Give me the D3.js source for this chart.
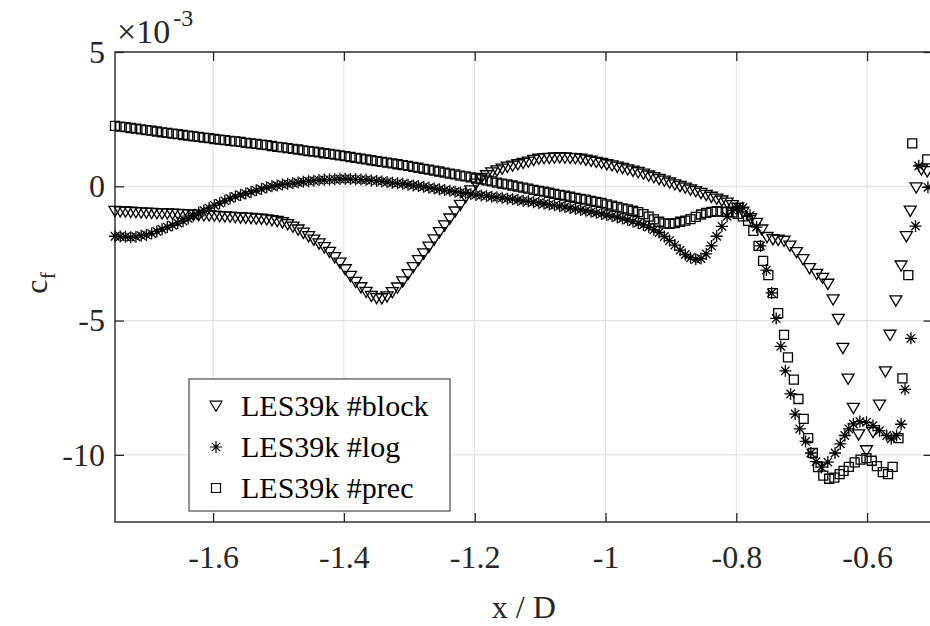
<!DOCTYPE html>
<html>
<head>
<meta charset="utf-8">
<script src="https://cdn.jsdelivr.net/npm/d3@7"></script>
<style>
body { margin: 0; background: #fff; }
svg { display: block; font-family: 'Liberation Serif', 'Times New Roman', serif; }
</style>
</head>
<body>
<svg id="chart" width="930" height="626"></svg>
<script>
// values are c_f in units of 1e-3
const xDomain = [-1.75, -0.5]
const yDomain = [-12.5, 5]
const xTicks = [-1.6, -1.4, -1.2, -1, -0.8, -0.6]
const yTicks = [5, 0, -5, -10]
const seriesNames = ['LES39k #block', 'LES39k #log', 'LES39k #prec']

// wall points shared by the three runs upstream of x/D = -0.79
const xGrid = [
    -1.750, -1.742, -1.734, -1.726, -1.718, -1.710, -1.702, -1.694, -1.686, -1.678,
    -1.670, -1.662, -1.654, -1.646, -1.638, -1.630, -1.622, -1.614, -1.606, -1.598,
    -1.590, -1.582, -1.574, -1.566, -1.558, -1.550, -1.542, -1.534, -1.526, -1.518,
    -1.510, -1.502, -1.494, -1.486, -1.478, -1.470, -1.462, -1.454, -1.446, -1.438,
    -1.430, -1.422, -1.414, -1.406, -1.398, -1.390, -1.382, -1.374, -1.366, -1.358,
    -1.350, -1.342, -1.334, -1.326, -1.318, -1.310, -1.302, -1.294, -1.286, -1.278,
    -1.270, -1.262, -1.254, -1.246, -1.238, -1.230, -1.222, -1.214, -1.206, -1.198,
    -1.190, -1.182, -1.174, -1.166, -1.158, -1.150, -1.142, -1.134, -1.126, -1.118,
    -1.110, -1.102, -1.094, -1.086, -1.078, -1.070, -1.062, -1.054, -1.046, -1.038,
    -1.030, -1.022, -1.014, -1.006, -0.998, -0.990, -0.982, -0.974, -0.966, -0.958,
    -0.950, -0.942, -0.934, -0.926, -0.918, -0.910, -0.902, -0.894, -0.886, -0.878,
    -0.870, -0.862, -0.854, -0.846, -0.838, -0.830, -0.822, -0.814, -0.806, -0.798,
    -0.790
]

const blockY = [
    -0.93, -0.94, -0.95, -0.96, -0.97, -0.98, -0.99, -1.00, -1.01, -1.02,
    -1.02, -1.03, -1.04, -1.05, -1.06, -1.07, -1.08, -1.09, -1.09, -1.10,
    -1.12, -1.13, -1.14, -1.16, -1.17, -1.18, -1.19, -1.21, -1.22, -1.24,
    -1.27, -1.30, -1.35, -1.42, -1.51, -1.62, -1.74, -1.87, -2.00, -2.14,
    -2.28, -2.45, -2.65, -2.85, -3.10, -3.35, -3.57, -3.77, -3.94, -4.09,
    -4.17, -4.18, -4.11, -3.95, -3.78, -3.55, -3.28, -3.02, -2.76, -2.51,
    -2.26, -1.99, -1.72, -1.47, -1.21, -0.95, -0.70, -0.42, -0.16, 0.09,
    0.30, 0.40, 0.51, 0.58, 0.65, 0.72, 0.76, 0.81, 0.86, 0.91,
    0.97, 1.02, 1.04, 1.05, 1.06, 1.07, 1.06, 1.05, 1.04, 1.02,
    0.98, 0.94, 0.90, 0.86, 0.81, 0.77, 0.72, 0.67, 0.62, 0.57,
    0.52, 0.46, 0.39, 0.33, 0.26, 0.20, 0.13, 0.06, 0.00, -0.06,
    -0.13, -0.19, -0.26, -0.33, -0.40, -0.47, -0.54, -0.62, -0.71, -0.81,
    -0.96
]

const logY = [
    -1.86, -1.87, -1.88, -1.90, -1.88, -1.84, -1.81, -1.76, -1.68, -1.60,
    -1.52, -1.45, -1.37, -1.30, -1.20, -1.09, -0.99, -0.90, -0.81, -0.71,
    -0.63, -0.54, -0.45, -0.38, -0.32, -0.27, -0.21, -0.15, -0.10, -0.04,
    0.00, 0.03, 0.07, 0.09, 0.12, 0.14, 0.17, 0.19, 0.21, 0.23,
    0.24, 0.25, 0.26, 0.27, 0.28, 0.27, 0.26, 0.25, 0.24, 0.22,
    0.20, 0.18, 0.16, 0.13, 0.11, 0.09, 0.06, 0.03, 0.01, -0.02,
    -0.05, -0.08, -0.11, -0.14, -0.17, -0.20, -0.23, -0.26, -0.29, -0.32,
    -0.34, -0.36, -0.39, -0.41, -0.43, -0.46, -0.48, -0.51, -0.54, -0.56,
    -0.59, -0.62, -0.65, -0.68, -0.71, -0.74, -0.77, -0.81, -0.84, -0.88,
    -0.91, -0.95, -0.99, -1.03, -1.07, -1.11, -1.16, -1.20, -1.25, -1.31,
    -1.37, -1.44, -1.52, -1.62, -1.72, -1.87, -2.02, -2.19, -2.38, -2.54,
    -2.66, -2.72, -2.69, -2.52, -2.22, -1.86, -1.49, -1.12, -0.90, -0.78,
    -0.80
]

const precY = [
    2.25, 2.22, 2.20, 2.17, 2.15, 2.12, 2.09, 2.07, 2.04, 2.01,
    1.99, 1.96, 1.94, 1.91, 1.89, 1.86, 1.84, 1.81, 1.79, 1.76,
    1.74, 1.72, 1.69, 1.67, 1.65, 1.62, 1.60, 1.58, 1.55, 1.53,
    1.50, 1.47, 1.45, 1.42, 1.39, 1.37, 1.34, 1.31, 1.29, 1.26,
    1.23, 1.21, 1.18, 1.15, 1.12, 1.09, 1.06, 1.03, 1.00, 0.97,
    0.94, 0.91, 0.88, 0.85, 0.82, 0.79, 0.76, 0.72, 0.69, 0.65,
    0.62, 0.58, 0.55, 0.51, 0.47, 0.44, 0.40, 0.37, 0.33, 0.29,
    0.26, 0.22, 0.18, 0.14, 0.10, 0.07, 0.03, -0.01, -0.05, -0.09,
    -0.13, -0.17, -0.20, -0.24, -0.28, -0.32, -0.35, -0.39, -0.43, -0.47,
    -0.50, -0.54, -0.58, -0.62, -0.67, -0.72, -0.77, -0.82, -0.86, -0.91,
    -0.96, -1.04, -1.13, -1.23, -1.32, -1.38, -1.40, -1.37, -1.32, -1.28,
    -1.22, -1.14, -1.05, -0.99, -0.95, -0.93, -0.94, -0.96, -0.97, -1.03,
    -1.12
]

// downstream part, each run has its own points
const blockTailX = [-0.778, -0.769, -0.761, -0.753, -0.744, -0.736, -0.727, -0.718, -0.708, -0.698,
    -0.688, -0.677, -0.668, -0.660, -0.652, -0.644, -0.637, -0.629, -0.621, -0.613,
    -0.601, -0.591, -0.581, -0.572, -0.565, -0.556, -0.548, -0.540, -0.534, -0.525,
    -0.517, -0.508]
const blockTailY = [-1.20, -1.37, -1.62, -1.90, -1.98, -2.00, -2.04, -2.22, -2.46, -2.72,
    -3.06, -3.27, -3.42, -3.64, -4.22, -4.95, -6.03, -7.17, -8.26, -9.25,
    -9.84, -9.16, -8.14, -6.90, -5.54, -4.26, -2.96, -1.87, -0.92, -0.05,
    0.62, 0.55]

const logTailX = [-0.779, -0.769, -0.763, -0.754, -0.746, -0.739, -0.732, -0.725, -0.717, -0.710,
    -0.703, -0.694, -0.686, -0.678, -0.670, -0.660, -0.649, -0.641, -0.634, -0.628,
    -0.621, -0.611, -0.601, -0.591, -0.581, -0.570, -0.563, -0.555, -0.548, -0.542,
    -0.533, -0.526, -0.521, -0.507]
const logTailY = [-1.08, -1.52, -2.22, -3.12, -3.97, -4.92, -5.96, -6.87, -7.73, -8.48,
    -9.03, -9.50, -9.93, -10.25, -10.46, -10.27, -9.93, -9.59, -9.28, -9.03,
    -8.85, -8.76, -8.79, -8.91, -9.10, -9.28, -9.40, -9.28, -8.86, -7.56,
    -5.66, -1.48, 0.76, -0.04]

const precTailX = [-0.782, -0.774, -0.766, -0.759, -0.751, -0.744, -0.736, -0.727, -0.721, -0.712,
    -0.705, -0.697, -0.690, -0.683, -0.675, -0.667, -0.658, -0.650, -0.642, -0.636,
    -0.628, -0.619, -0.610, -0.601, -0.593, -0.585, -0.576, -0.568, -0.561, -0.552,
    -0.546, -0.537, -0.531, -0.508]
const precTailY = [-1.29, -1.66, -2.22, -2.78, -3.31, -3.98, -4.72, -5.53, -6.37, -7.20,
    -7.92, -8.66, -9.38, -9.93, -10.46, -10.77, -10.89, -10.85, -10.72, -10.60,
    -10.45, -10.28, -10.18, -10.12, -10.22, -10.42, -10.64, -10.72, -10.45, -9.38,
    -7.15, -3.31, 1.60, 1.00]

const markerPaths = {
    triangle: 'M-6,-4.8L6,-4.8L0,5.4Z',
    asterisk: 'M0,-6V6M-6,0H6M-4.2,-4.2L4.2,4.2M-4.2,4.2L4.2,-4.2',
    square: 'M-4.5,-4.5H4.5V4.5H-4.5Z'
}

function toPoints(xs, ys) {
    return xs.map((v, i) => ({ x: v, y: ys[i] }))
}

const series = [
    { name: seriesNames[0], marker: 'triangle', points: toPoints(xGrid, blockY).concat(toPoints(blockTailX, blockTailY)) },
    { name: seriesNames[1], marker: 'asterisk', points: toPoints(xGrid, logY).concat(toPoints(logTailX, logTailY)) },
    { name: seriesNames[2], marker: 'square', points: toPoints(xGrid, precY).concat(toPoints(precTailX, precTailY)) }
]

const svg = d3.select('#chart')
const box = { left: 115, right: 932.5, top: 52, bottom: 522 }
const axisColor = '#262626'

const x = d3.scaleLinear().domain(xDomain).range([box.left, box.right])
const y = d3.scaleLinear().domain(yDomain).range([box.bottom, box.top])

svg.append('rect').attr('width', 930).attr('height', 626).attr('fill', '#fff')

// grid
const grid = svg.append('g').attr('stroke', '#dedede').attr('stroke-width', 1)
grid.selectAll('.gx').data(xTicks).join('line')
    .attr('x1', d => x(d)).attr('x2', d => x(d))
    .attr('y1', box.top).attr('y2', box.bottom)
grid.selectAll('.gy').data(yTicks).join('line')
    .attr('y1', d => y(d)).attr('y2', d => y(d))
    .attr('x1', box.left).attr('x2', box.right)

// axes, ticks pointing inwards like matlab
function styleAxis(g) {
    g.select('.domain').remove()
    g.selectAll('.tick line').attr('stroke', axisColor).attr('stroke-width', 1.3)
    g.selectAll('.tick text').attr('fill', axisColor).attr('font-size', 32)
        .attr('font-family', "'Liberation Serif', 'Times New Roman', serif")
}

svg.append('g').attr('transform', `translate(0,${box.bottom})`)
    .call(d3.axisBottom(x).tickValues(xTicks).tickSize(-9).tickPadding(23).tickFormat(d => String(d)))
    .call(styleAxis)
svg.append('g').attr('transform', `translate(0,${box.top})`)
    .call(d3.axisTop(x).tickValues(xTicks).tickSize(-9).tickFormat(''))
    .call(styleAxis)
svg.append('g').attr('transform', `translate(${box.left},0)`)
    .call(d3.axisLeft(y).tickValues(yTicks).tickSize(-9).tickPadding(10).tickFormat(d => String(d)))
    .call(styleAxis)
svg.append('g').attr('transform', `translate(${box.right},0)`)
    .call(d3.axisRight(y).tickValues(yTicks).tickSize(-9).tickFormat(''))
    .call(styleAxis)

svg.append('rect')
    .attr('x', box.left).attr('y', box.top)
    .attr('width', box.right - box.left).attr('height', box.bottom - box.top)
    .attr('fill', 'none').attr('stroke', axisColor).attr('stroke-width', 1.4)

// data markers
for (let s of series) {
    svg.append('g')
        .attr('fill', 'none').attr('stroke', '#000').attr('stroke-width', 1.3)
        .selectAll('path')
        .data(s.points)
        .join('path')
        .attr('transform', d => `translate(${x(d.x)},${y(d.y)})`)
        .attr('d', markerPaths[s.marker])
}

// exponent label
const expo = svg.append('text').attr('x', 117).attr('y', 43)
    .attr('font-size', 34).attr('fill', axisColor)
expo.append('tspan').text('×10')
expo.append('tspan').attr('dx', 3).attr('dy', -17).attr('font-size', 24).text('-3')

// axis labels
svg.append('text')
    .attr('x', (box.left + box.right) / 2).attr('y', 618)
    .attr('text-anchor', 'middle').attr('font-size', 32).attr('fill', axisColor)
    .text('x / D')

const yLabel = svg.append('text')
    .attr('transform', 'translate(47,283) rotate(-90)')
    .attr('text-anchor', 'middle').attr('font-size', 32).attr('fill', axisColor)
yLabel.append('tspan').text('c')
yLabel.append('tspan').attr('dy', 8).attr('font-size', 22).text('f')

// legend
const legend = svg.append('g')
legend.append('rect')
    .attr('x', 189).attr('y', 379).attr('width', 261).attr('height', 132)
    .attr('fill', '#fff').attr('stroke', axisColor).attr('stroke-width', 1)

const rows = legend.selectAll('.row').data(series).join('g')
    .attr('transform', (d, i) => `translate(0,${406 + i * 41})`)
rows.append('path')
    .attr('transform', 'translate(216,0)')
    .attr('d', d => markerPaths[d.marker])
    .attr('fill', 'none').attr('stroke', '#000').attr('stroke-width', 1.2)
rows.append('text')
    .attr('x', 241).attr('y', 10)
    .attr('font-size', 30).attr('fill', '#000')
    .text(d => d.name)
</script>
</body>
</html>
